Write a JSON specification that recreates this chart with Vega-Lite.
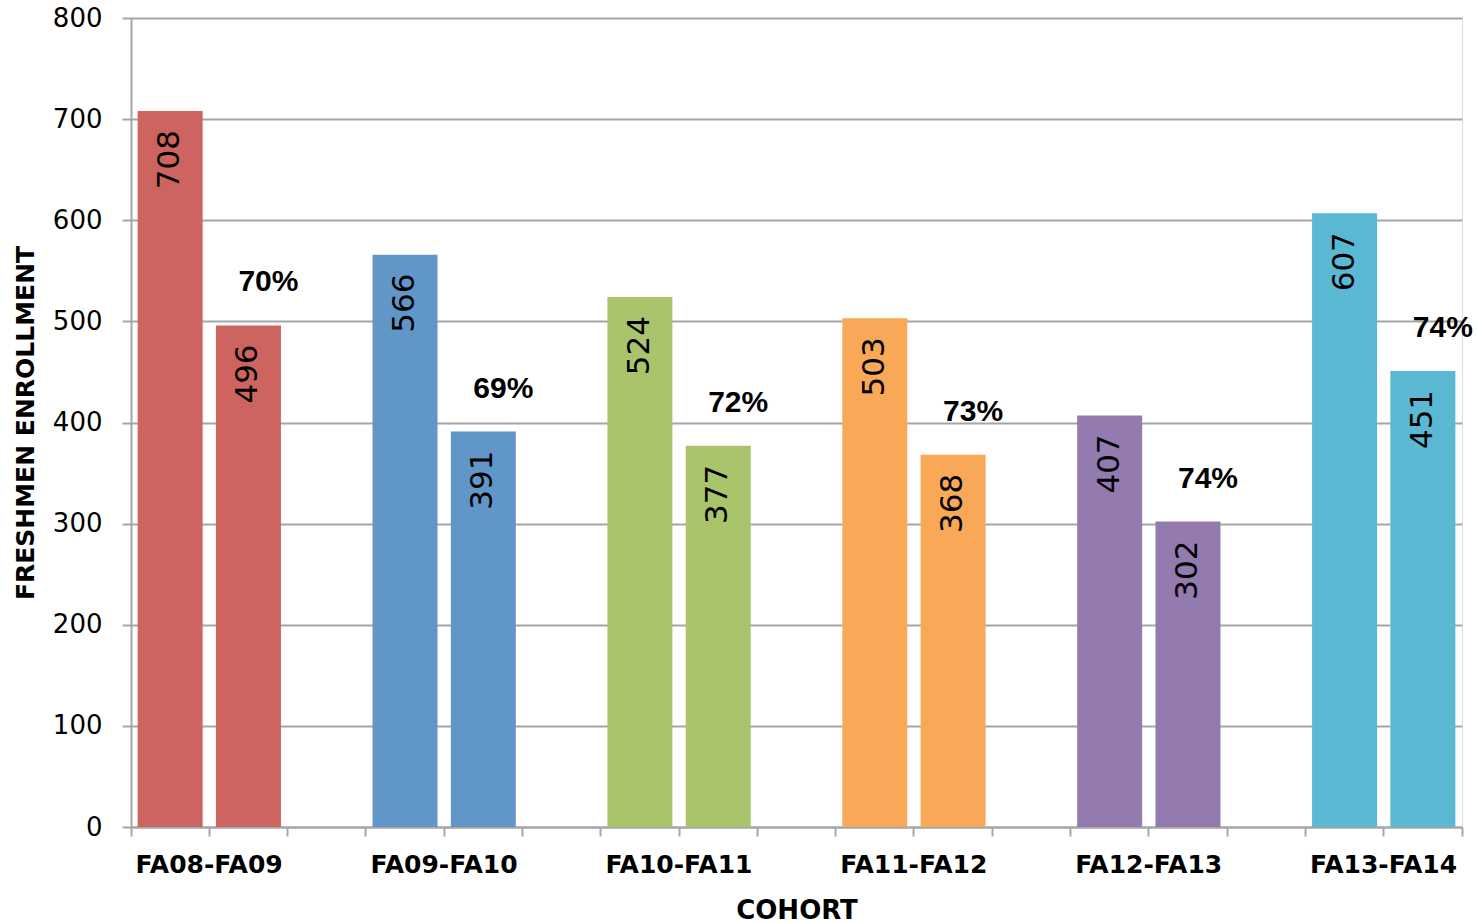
{
  "$schema": "https://vega.github.io/schema/vega-lite/v6.json",
  "width": 1331,
  "height": 809,
  "autosize": "none",
  "padding": {"left": 131, "top": 18, "right": 14, "bottom": 96},
  "background": "white",
  "data": {
    "values": [
      {"slot": "FA08-FA09", "cohort": "FA08-FA09", "n": 708},
      {"slot": "FA08-FA09 2", "cohort": "FA08-FA09", "n": 496, "pct": "70%"},
      {"slot": "FA09-FA10", "cohort": "FA09-FA10", "n": 566},
      {"slot": "FA09-FA10 2", "cohort": "FA09-FA10", "n": 391, "pct": "69%"},
      {"slot": "FA10-FA11", "cohort": "FA10-FA11", "n": 524},
      {"slot": "FA10-FA11 2", "cohort": "FA10-FA11", "n": 377, "pct": "72%"},
      {"slot": "FA11-FA12", "cohort": "FA11-FA12", "n": 503},
      {"slot": "FA11-FA12 2", "cohort": "FA11-FA12", "n": 368, "pct": "73%"},
      {"slot": "FA12-FA13", "cohort": "FA12-FA13", "n": 407},
      {"slot": "FA12-FA13 2", "cohort": "FA12-FA13", "n": 302, "pct": "74%"},
      {"slot": "FA13-FA14", "cohort": "FA13-FA14", "n": 607},
      {"slot": "FA13-FA14 2", "cohort": "FA13-FA14", "n": 451, "pct": "74%"}
    ]
  },
  "encoding": {
    "x": {
      "field": "slot",
      "type": "nominal",
      "sort": null,
      "scale": {
        "domain": ["FA08-FA09", "FA08-FA09 2", "gap 1", "FA09-FA10", "FA09-FA10 2", "gap 2", "FA10-FA11", "FA10-FA11 2", "gap 3", "FA11-FA12", "FA11-FA12 2", "gap 4", "FA12-FA13", "FA12-FA13 2", "gap 5", "FA13-FA14", "FA13-FA14 2"],
        "paddingInner": 0,
        "paddingOuter": 0
      },
      "axis": {
        "title": "COHORT",
        "titleFont": "DejaVu Sans",
        "titleFontSize": 26,
        "titleFontWeight": "bold",
        "titleColor": "black",
        "titlePadding": 20,
        "labelExpr": "indexof(datum.label, ' ') >= 0 ? '' : datum.label",
        "labelAngle": 0,
        "labelAlign": "center",
        "labelOffset": 39,
        "labelFont": "DejaVu Sans",
        "labelFontSize": 25,
        "labelFontWeight": "bold",
        "labelColor": "black",
        "labelPadding": 16,
        "bandPosition": 1,
        "tickExtra": true,
        "tickSize": 9,
        "tickColor": "#A6A6A6",
        "tickWidth": 2,
        "domainColor": "#A6A6A6",
        "domainWidth": 2,
        "grid": false
      }
    },
    "y": {
      "field": "n",
      "type": "quantitative",
      "scale": {"domain": [0, 800], "nice": false},
      "axis": {
        "title": "FRESHMEN ENROLLMENT",
        "titleFont": "DejaVu Sans",
        "titleFontSize": 25,
        "titleFontWeight": "bold",
        "titleColor": "black",
        "titlePadding": 14,
        "values": [0, 100, 200, 300, 400, 500, 600, 700, 800],
        "labelFont": "DejaVu Sans",
        "labelFontSize": 26,
        "labelColor": "black",
        "labelPadding": 20,
        "tickSize": 9,
        "tickColor": "#A6A6A6",
        "tickWidth": 2,
        "domainColor": "#A6A6A6",
        "domainWidth": 2,
        "grid": true,
        "gridColor": "#A6A6A6",
        "gridWidth": 2
      }
    }
  },
  "layer": [
    {
      "mark": {"type": "bar", "width": {"band": 0.83}},
      "encoding": {
        "color": {
          "field": "cohort",
          "type": "nominal",
          "legend": null,
          "scale": {
            "domain": ["FA08-FA09", "FA09-FA10", "FA10-FA11", "FA11-FA12", "FA12-FA13", "FA13-FA14"],
            "range": ["#CD6460", "#6196C9", "#AAC46C", "#F9A857", "#937AAF", "#5BB8D2"]
          }
        }
      }
    },
    {
      "mark": {"type": "text", "angle": 270, "align": "right", "baseline": "middle", "dx": -19, "font": "DejaVu Sans", "fontSize": 31, "color": "black"},
      "encoding": {"text": {"field": "n", "type": "quantitative"}}
    },
    {
      "transform": [{"filter": "isValid(datum.pct)"}],
      "mark": {"type": "text", "align": "center", "baseline": "middle", "dx": 20, "dy": -43, "font": "Liberation Sans", "fontSize": 30, "fontWeight": "bold", "color": "black"},
      "encoding": {"text": {"field": "pct", "type": "nominal"}}
    }
  ]
}
